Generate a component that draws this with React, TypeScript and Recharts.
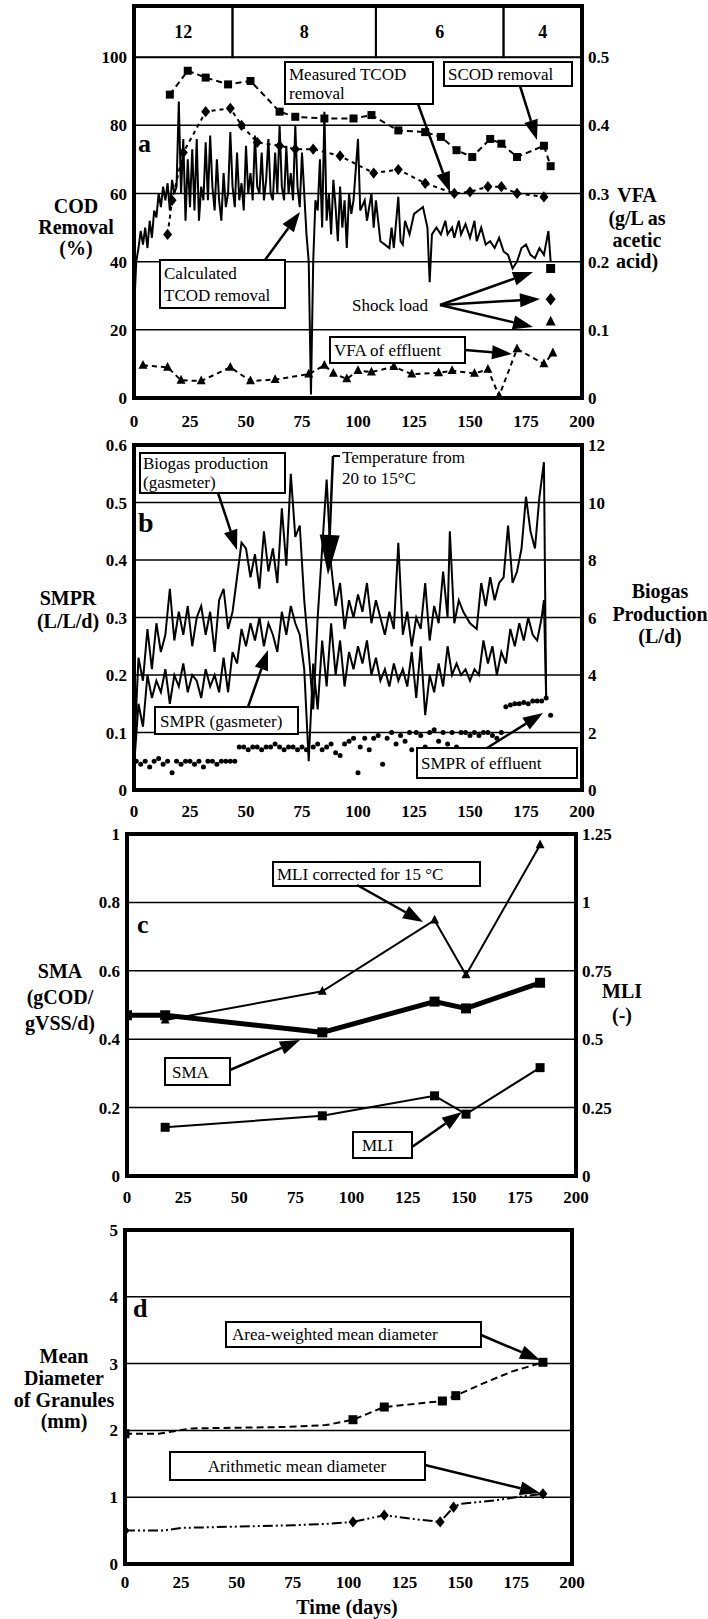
import React from "react";
import { ComposedChart, Line, XAxis, YAxis, CartesianGrid, ReferenceArea } from "recharts";

const FONT = '"Liberation Serif", "Times New Roman", serif';

// shared x axis (days)
const dayTicks = [0, 25, 50, 75, 100, 125, 150, 175, 200];

// ---- panel a : COD removal / VFA ----
const hrtBounds = [0, 44, 108, 165, 200];
const hrtLabels = ["12", "8", "6", "4"];

const calcTcod: [number, number][] = [
  [0, 25], [1, 40], [2, 44], [3, 49], [4, 45], [5, 50], [6, 44], [7, 52], [8, 47], [9, 55],
  [10, 53], [11, 60], [12, 56], [13, 62], [14, 58], [15, 63], [16, 55], [17, 64], [18, 60], [19, 62],
  [20, 87], [21, 60], [22, 76], [23, 52], [24, 70], [25, 56], [26, 73], [27, 55], [28, 76], [29, 52],
  [30, 62], [31, 58], [32, 75], [33, 58], [34, 77], [35, 62], [36, 55], [37, 70], [38, 58], [39, 52],
  [40, 66], [41, 56], [42, 60], [43, 78], [44, 62], [45, 56], [46, 72], [47, 58], [48, 63], [49, 55],
  [50, 74], [51, 60], [52, 66], [53, 58], [54, 77], [55, 62], [56, 60], [57, 72], [58, 58], [59, 64],
  [60, 76], [61, 60], [62, 58], [63, 72], [64, 60], [65, 80], [66, 62], [67, 58], [68, 74], [69, 60],
  [70, 66], [71, 58], [72, 80], [73, 62], [74, 56], [75, 72], [76, 60], [77, 48], [78, 40], [79, 1],
  [80, 40], [81, 58], [82, 55], [83, 70], [84, 50], [85, 84], [86, 52], [87, 60], [88, 48], [89, 64],
  [90, 56], [91, 46], [92, 62], [93, 50], [94, 58], [95, 44], [96, 60], [97, 54], [98, 58], [100, 76],
  [101, 55], [103, 58], [104, 52], [106, 60], [107, 50], [108, 58], [110, 46], [112, 45], [114, 44], [115, 50],
  [116, 44], [118, 59], [119, 46], [120, 45], [121, 52], [123, 48], [125, 54], [127, 55], [129, 56], [131, 50],
  [132, 34], [133, 48], [135, 50], [137, 48], [139, 52], [140, 48], [142, 50], [143, 47], [145, 52], [146, 48],
  [148, 51], [150, 47], [152, 52], [153, 46], [155, 50], [157, 45], [159, 46], [161, 44], [163, 47], [165, 43],
  [167, 42], [169, 38], [171, 40], [173, 44], [175, 45], [177, 42], [179, 41], [181, 44], [183, 42], [185, 49],
  [186, 40],
];
const measuredTcod: [number, number][] = [
  [15, 48], [17, 58], [22, 72], [32, 84], [43, 85], [48, 80], [55, 75], [65, 74], [72, 73], [80, 73],
  [92, 71], [107, 66], [118, 67], [130, 63], [143, 60], [150, 60.5], [158, 62], [164, 62], [171, 60], [183, 59],
];
const scodRemoval: [number, number][] = [
  [16, 89], [24, 96], [32, 94], [42, 92], [52, 93], [65, 84], [72, 82.5], [85, 82], [98, 82], [106, 83],
  [118, 78.5], [130, 78], [137, 76.6], [144, 72.7], [151, 70.7], [159, 76], [164, 74.6], [171, 70.7], [183, 74], [186, 68],
];
const vfaEffluent: [number, number][] = [
  [4, 0.048], [15, 0.045], [21, 0.026], [30, 0.025], [43, 0.045], [52, 0.025], [63, 0.027], [78, 0.035],
  [85, 0.048], [89, 0.036], [95, 0.028], [100, 0.04], [106, 0.038], [116, 0.046], [124, 0.035], [136, 0.037],
  [142, 0.04], [152, 0.036], [158, 0.042], [163, 0.003], [171, 0.072], [183, 0.05], [187, 0.066],
];
const shockScod: [number, number][] = [[186, 38]];
const shockTcod: [number, number][] = [[186, 29]];
const shockVfa: [number, number][] = [[186, 0.112]];

// ---- panel b : SMPR / biogas ----
const biogas: [number, number][] = [
  [0, 1.2], [2, 4.6], [4, 3.8], [6, 5.6], [8, 4.2], [10, 5.8], [12, 4.8], [14, 5.4], [16, 7.0], [18, 5.2],
  [20, 6.2], [22, 5.4], [24, 6.4], [26, 5.0], [28, 6.0], [30, 6.4], [32, 5.4], [34, 6.2], [36, 4.8], [38, 6.6],
  [40, 7.0], [42, 5.6], [44, 6.2], [46, 7.4], [48, 8.6], [50, 8.4], [52, 7.4], [54, 8.2], [56, 7.0], [58, 9.0],
  [60, 7.6], [62, 8.4], [64, 7.2], [66, 9.8], [68, 7.8], [70, 11.0], [72, 8.8], [74, 9.2], [76, 6.6], [78, 4.8],
  [80, 2.8], [82, 6.0], [84, 8.4], [86, 10.8], [88, 7.8], [90, 6.4], [92, 7.2], [94, 5.6], [96, 6.6], [98, 6.0],
  [100, 6.8], [102, 6.2], [104, 7.2], [106, 5.8], [108, 6.6], [110, 6.0], [112, 5.4], [114, 6.2], [116, 5.6], [118, 8.6],
  [120, 5.4], [122, 6.2], [124, 5.0], [126, 6.0], [128, 5.6], [130, 7.2], [132, 5.2], [134, 6.4], [136, 5.8], [138, 7.6],
  [140, 6.0], [141, 9.0], [143, 5.8], [145, 6.6], [147, 6.2], [150, 5.8], [153, 5.6], [155, 7.2], [157, 6.4], [159, 7.4],
  [161, 6.6], [163, 7.2], [165, 7.4], [167, 9.2], [169, 7.2], [171, 7.6], [173, 8.4], [175, 10.2], [177, 9.0], [179, 8.4],
  [181, 10.2], [183, 11.4], [184, 3.2],
];
const smprGas: [number, number][] = [
  [0, 0.04], [2, 0.15], [4, 0.11], [6, 0.2], [8, 0.16], [10, 0.19], [12, 0.17], [14, 0.21], [16, 0.15], [18, 0.2],
  [20, 0.18], [22, 0.22], [24, 0.17], [26, 0.2], [28, 0.19], [30, 0.16], [32, 0.21], [34, 0.18], [36, 0.2], [38, 0.17],
  [40, 0.23], [42, 0.17], [44, 0.24], [46, 0.22], [48, 0.28], [50, 0.25], [52, 0.29], [54, 0.26], [56, 0.3], [58, 0.25],
  [60, 0.29], [62, 0.27], [64, 0.24], [66, 0.31], [68, 0.27], [70, 0.32], [72, 0.29], [74, 0.27], [76, 0.21], [78, 0.05],
  [80, 0.22], [82, 0.14], [84, 0.26], [86, 0.18], [88, 0.29], [90, 0.2], [92, 0.26], [94, 0.18], [96, 0.24], [98, 0.21],
  [100, 0.25], [102, 0.22], [104, 0.26], [106, 0.2], [108, 0.23], [110, 0.19], [112, 0.21], [114, 0.18], [116, 0.22], [118, 0.19],
  [120, 0.21], [122, 0.18], [124, 0.24], [126, 0.16], [128, 0.25], [130, 0.13], [132, 0.2], [134, 0.17], [136, 0.22], [138, 0.18],
  [140, 0.25], [142, 0.2], [144, 0.22], [146, 0.2], [148, 0.21], [150, 0.19], [152, 0.21], [154, 0.2], [156, 0.26], [158, 0.22],
  [160, 0.25], [162, 0.2], [164, 0.24], [166, 0.22], [168, 0.28], [170, 0.25], [172, 0.29], [174, 0.26], [176, 0.3], [178, 0.27],
  [180, 0.26], [182, 0.3], [183, 0.33], [184, 0.16],
];
const smprEffluent: [number, number][] = [
  [1, 0.05], [3, 0.045], [5, 0.05], [7, 0.04], [9, 0.05], [11, 0.055], [13, 0.045], [15, 0.05], [17, 0.03], [19, 0.05],
  [21, 0.045], [23, 0.05], [25, 0.05], [27, 0.045], [29, 0.05], [31, 0.04], [33, 0.05], [35, 0.05], [37, 0.045], [39, 0.05],
  [41, 0.05], [43, 0.05], [45, 0.05], [47, 0.075], [49, 0.075], [51, 0.07], [53, 0.075], [55, 0.075], [57, 0.07], [59, 0.075],
  [61, 0.075], [63, 0.08], [65, 0.075], [67, 0.07], [69, 0.075], [71, 0.075], [73, 0.07], [75, 0.075], [77, 0.07], [80, 0.075],
  [82, 0.08], [84, 0.07], [86, 0.075], [88, 0.08], [90, 0.065], [92, 0.06], [94, 0.08], [96, 0.085], [98, 0.09], [100, 0.03],
  [101, 0.075], [103, 0.09], [105, 0.07], [107, 0.09], [109, 0.095], [111, 0.045], [113, 0.09], [115, 0.1], [117, 0.08], [119, 0.095],
  [121, 0.085], [123, 0.1], [124, 0.07], [126, 0.1], [128, 0.095], [130, 0.075], [132, 0.1], [134, 0.105], [136, 0.085], [138, 0.1],
  [140, 0.08], [142, 0.1], [144, 0.075], [146, 0.1], [148, 0.1], [150, 0.095], [152, 0.1], [154, 0.095], [156, 0.1], [158, 0.1],
  [160, 0.095], [162, 0.09], [164, 0.1], [166, 0.145], [168, 0.148], [170, 0.15], [172, 0.15], [174, 0.152], [176, 0.15], [178, 0.155],
  [180, 0.155], [182, 0.155], [184, 0.16], [186, 0.13],
];

// ---- panel c : SMA / MLI ----
const sma: [number, number][] = [[0, 0.47], [17, 0.47], [87, 0.42], [137, 0.51], [151, 0.49], [184, 0.565]];
const mli: [number, number][] = [[17, 0.178], [87, 0.22], [137, 0.293], [151, 0.226], [184, 0.396]];
const mliCorrected: [number, number][] = [[17, 0.57], [87, 0.675], [137, 0.935], [151, 0.735], [184, 1.21]];

// ---- panel d : granule diameter ----
const areaMean: [number, number][] = [
  [0, 1.95], [15, 1.95], [30, 2.03], [50, 2.04], [70, 2.05], [90, 2.08], [102, 2.16], [116, 2.35],
  [142, 2.44], [148, 2.52], [160, 2.7], [173, 2.88], [187, 3.02],
];
const areaMarkDays = [0, 102, 116, 142, 148, 187];
const arithMean: [number, number][] = [
  [0, 0.5], [17, 0.5], [25, 0.54], [50, 0.56], [75, 0.58], [90, 0.6], [102, 0.63], [116, 0.73],
  [130, 0.67], [141, 0.63], [147, 0.85], [150, 0.9], [165, 0.95], [175, 1.0], [187, 1.05],
];
const arithMarkDays = [0, 102, 116, 141, 147, 187];

const pts = (a: [number, number][]) => a.map(([d, v]) => ({ d, v }));
const only = (a: [number, number][], days: number[]) => pts(a.filter(([d]) => days.includes(d)));

const tickStyle = { fontSize: 17, fontWeight: 700, fill: "#000", fontFamily: FONT };

const mark = (shape: string, s: number) => (p: any) => {
  const { cx, cy, index } = p;
  const k = `${shape}-${index}`;
  if (cx == null || cy == null) return <g key={k} />;
  const h = s / 2;
  if (shape === "circle") return <circle key={k} cx={cx} cy={cy} r={h} fill="#000" />;
  let d = "";
  if (shape === "square") d = `M${cx - h},${cy - h}h${s}v${s}h${-s}Z`;
  else if (shape === "diamond") d = `M${cx},${cy - h * 1.25}L${cx + h},${cy}L${cx},${cy + h * 1.25}L${cx - h},${cy}Z`;
  else d = `M${cx},${cy - h * 1.2}L${cx + h},${cy + h * 0.75}L${cx - h},${cy + h * 0.75}Z`;
  return <path key={k} d={d} fill="#000" />;
};

type PanelProps = {
  top: number; x0: number; x1: number; h: number;
  lMax: number; lTicks: number[]; rMax?: number; rTicks?: number[];
  tickGap?: number;
  children?: React.ReactNode;
};

function Panel({ top, x0, x1, h, lMax, lTicks, rMax, rTicks, tickGap = 15, children }: PanelProps) {
  const mt = 14, axisW = 40, xH = 32, mb = 12;
  const hasR = rMax !== undefined;
  return (
    <div style={{ position: "absolute", left: 0, top: top - mt }}>
      <ComposedChart
        width={708}
        height={h + mt + xH + mb}
        margin={{ top: mt, bottom: mb, left: x0 - axisW, right: 708 - x1 - (hasR ? axisW : 0) }}
      >
        <XAxis dataKey="d" type="number" domain={[0, 200]} ticks={dayTicks} interval={0} allowDataOverflow
          axisLine={false} tickLine={false} tickSize={0} tickMargin={tickGap} height={xH} tick={tickStyle} />
        <YAxis dataKey="v" domain={[0, lMax]} ticks={lTicks} interval={0} allowDataOverflow width={axisW}
          axisLine={false} tickLine={false} tickSize={0} tickMargin={7} tick={tickStyle} />
        {hasR ? (
          <YAxis yAxisId="r" orientation="right" dataKey="v" domain={[0, rMax as number]} ticks={rTicks} interval={0}
            allowDataOverflow width={axisW} axisLine={false} tickLine={false} tickSize={0} tickMargin={6} tick={tickStyle} />
        ) : null}
        <CartesianGrid vertical={false} stroke="#000" strokeWidth={1.5} />
        {children}
        <ReferenceArea x1={0} x2={200} y1={0} y2={lMax} fill="none" stroke="#000" strokeWidth={4} ifOverflow="visible" />
      </ComposedChart>
    </div>
  );
}

const Box = ({ x, y, w, h }: { x: number; y: number; w: number; h: number }) => (
  <rect x={x} y={y} width={w} height={h} fill="#fff" stroke="#000" strokeWidth={2} />
);

const Arrow = ({ x1, y1, x2, y2, head = 20, hw = 7 }: { x1: number; y1: number; x2: number; y2: number; head?: number; hw?: number }) => {
  const dx = x2 - x1, dy = y2 - y1, L = Math.hypot(dx, dy);
  const ux = dx / L, uy = dy / L;
  const bx = x2 - ux * head, by = y2 - uy * head;
  const px = -uy * hw, py = ux * hw;
  return (
    <g>
      <line x1={x1} y1={y1} x2={bx} y2={by} stroke="#000" strokeWidth={2.5} />
      <path d={`M${x2},${y2}L${bx + px},${by + py}L${bx - px},${by - py}Z`} fill="#000" />
    </g>
  );
};

const T = ({ x, y, s, anchor = "start", bold = false, children }: any) => (
  <text x={x} y={y} fontSize={s} fontWeight={bold ? 700 : 400} textAnchor={anchor} fill="#000" fontFamily={FONT}>
    {children}
  </text>
);

function Overlay() {
  return (
    <svg width={708} height={1619} style={{ position: "absolute", left: 0, top: 0, pointerEvents: "none" }}>
      {/* panel a */}
      <T x={138} y={152} s={26} bold>a</T>
      <T x={76} y={213} s={20} anchor="middle" bold>COD</T>
      <T x={76} y={234} s={20} anchor="middle" bold>Removal</T>
      <T x={76} y={255} s={20} anchor="middle" bold>(%)</T>
      <T x={637} y={202} s={20} anchor="middle" bold>VFA</T>
      <T x={637} y={225} s={20} anchor="middle" bold>(g/L as</T>
      <T x={637} y={247} s={20} anchor="middle" bold>acetic</T>
      <T x={637} y={268} s={20} anchor="middle" bold>acid)</T>
      <Box x={285} y={62} w={148} h={42} />
      <T x={289} y={80} s={17}>Measured TCOD</T>
      <T x={289} y={99} s={17}>removal</T>
      <Arrow x1={418} y1={104} x2={450} y2={192} />
      <Box x={444} y={62} w={128} h={24} />
      <T x={448} y={80} s={17}>SCOD removal</T>
      <Arrow x1={520} y1={86} x2={537} y2={140} />
      <Box x={160} y={260} w={125} h={48} />
      <T x={164} y={279} s={17}>Calculated</T>
      <T x={164} y={301} s={17}>TCOD removal</T>
      <Arrow x1={265} y1={260} x2={300} y2={212} />
      <T x={352} y={311} s={17}>Shock load</T>
      <Arrow x1={440} y1={305} x2={533} y2={272} />
      <Arrow x1={440} y1={305} x2={540} y2={299} />
      <Arrow x1={440} y1={305} x2={533} y2={327} />
      <Box x={330} y={337} w={135} h={26} />
      <T x={334} y={356} s={17}>VFA of effluent</T>
      <Arrow x1={465} y1={350} x2={512} y2={354} />

      {/* panel b */}
      <T x={138} y={532} s={28} bold>b</T>
      <T x={68} y={605} s={20} anchor="middle" bold>SMPR</T>
      <T x={68} y={628} s={20} anchor="middle" bold>(L/L/d)</T>
      <T x={660} y={598} s={20} anchor="middle" bold>Biogas</T>
      <T x={660} y={621} s={20} anchor="middle" bold>Production</T>
      <T x={660} y={643} s={20} anchor="middle" bold>(L/d)</T>
      <Box x={140} y={453} w={145} h={40} />
      <T x={143} y={469} s={17}>Biogas production</T>
      <T x={143} y={488} s={17}>(gasmeter)</T>
      <Arrow x1={218} y1={493} x2={237} y2={550} />
      <line x1={333} y1={456} x2={340} y2={456} stroke="#000" strokeWidth={2} />
      <Arrow x1={333} y1={456} x2={328} y2={575} head={40} hw={10} />
      <T x={342} y={463} s={17}>Temperature from</T>
      <T x={342} y={484} s={17}>20 to 15°C</T>
      <Box x={155} y={707} w={143} h={27} />
      <T x={160} y={727} s={17}>SMPR (gasmeter)</T>
      <Arrow x1={248} y1={707} x2={268} y2={650} />
      <Box x={417} y={748} w={160} h={30} />
      <T x={421} y={769} s={17}>SMPR of effluent</T>
      <Arrow x1={487} y1={748} x2={543} y2={713} />

      {/* panel c */}
      <T x={137} y={933} s={26} bold>c</T>
      <T x={60} y={978} s={20} anchor="middle" bold>SMA</T>
      <T x={60} y={1004} s={20} anchor="middle" bold>(gCOD/</T>
      <T x={60} y={1030} s={20} anchor="middle" bold>gVSS/d)</T>
      <T x={622} y={998} s={20} anchor="middle" bold>MLI</T>
      <T x={622} y={1022} s={20} anchor="middle" bold>(-)</T>
      <Box x={273} y={862} w={207} h={24} />
      <T x={277} y={880} s={17}>MLI corrected for 15 °C</T>
      <Arrow x1={357} y1={885} x2={423} y2={922} />
      <Box x={165} y={1058} w={65} h={27} />
      <T x={172} y={1078} s={17}>SMA</T>
      <Arrow x1={230} y1={1070} x2={300} y2={1040} />
      <Box x={353} y={1132} w={59} h={26} />
      <T x={362} y={1151} s={17}>MLI</T>
      <Arrow x1={412} y1={1147} x2={462} y2={1112} />

      {/* panel d */}
      <T x={133} y={1317} s={26} bold>d</T>
      <T x={64} y={1363} s={20} anchor="middle" bold>Mean</T>
      <T x={64} y={1385} s={20} anchor="middle" bold>Diameter</T>
      <T x={64} y={1407} s={20} anchor="middle" bold>of Granules</T>
      <T x={64} y={1428} s={20} anchor="middle" bold>(mm)</T>
      <Box x={226} y={1322} w={255} h={25} />
      <T x={232} y={1340} s={17}>Area-weighted mean diameter</T>
      <Arrow x1={481} y1={1335} x2={540} y2={1360} />
      <Box x={170} y={1452} w={255} h={28} />
      <T x={297} y={1472} s={17} anchor="middle">Arithmetic mean diameter</T>
      <Arrow x1={425} y1={1465} x2={540} y2={1493} />
      <T x={347} y={1614} s={20} anchor="middle" bold>Time (days)</T>
    </svg>
  );
}

export default function App() {
  return (
    <div style={{ position: "absolute", left: 0, top: 0, width: 708, height: 1619, background: "#fff", fontFamily: FONT }}>
      {/* a */}
      <Panel top={6} x0={134} x1={582} h={392} lMax={115} lTicks={[0, 20, 40, 60, 80, 100]}
        rMax={0.575} rTicks={[0, 0.1, 0.2, 0.3, 0.4, 0.5]} tickGap={17}>
        {hrtLabels.map((lab, i) => (
          <ReferenceArea key={lab} x1={hrtBounds[i]} x2={hrtBounds[i + 1]} y1={100} y2={115} fill="#fff"
            stroke="#000" strokeWidth={2} ifOverflow="visible"
            label={{ value: lab, position: "center", fill: "#000", fontSize: 18, fontWeight: 700, fontFamily: FONT }} />
        ))}
        <Line data={pts(scodRemoval)} dataKey="v" stroke="#000" strokeWidth={2} strokeDasharray="6 4"
          dot={mark("square", 8)} activeDot={false} isAnimationActive={false} />
        <Line data={pts(measuredTcod)} dataKey="v" stroke="#000" strokeWidth={2} strokeDasharray="4 4"
          dot={mark("diamond", 9)} activeDot={false} isAnimationActive={false} />
        <Line data={pts(calcTcod)} dataKey="v" stroke="#000" strokeWidth={2} dot={false} activeDot={false}
          isAnimationActive={false} />
        <Line data={pts(vfaEffluent)} yAxisId="r" dataKey="v" stroke="#000" strokeWidth={2} strokeDasharray="5 4"
          dot={mark("triangle", 9)} activeDot={false} isAnimationActive={false} />
        <Line data={pts(shockScod)} dataKey="v" stroke="none" dot={mark("square", 9)} activeDot={false} isAnimationActive={false} />
        <Line data={pts(shockTcod)} dataKey="v" stroke="none" dot={mark("diamond", 10)} activeDot={false} isAnimationActive={false} />
        <Line data={pts(shockVfa)} yAxisId="r" dataKey="v" stroke="none" dot={mark("triangle", 10)} activeDot={false} isAnimationActive={false} />
      </Panel>

      {/* b */}
      <Panel top={445} x0={134} x1={582} h={345} lMax={0.6} lTicks={[0, 0.1, 0.2, 0.3, 0.4, 0.5, 0.6]}
        rMax={12} rTicks={[0, 2, 4, 6, 8, 10, 12]}>
        <Line data={pts(biogas)} yAxisId="r" dataKey="v" stroke="#000" strokeWidth={2} dot={false} activeDot={false}
          isAnimationActive={false} />
        <Line data={pts(smprGas)} dataKey="v" stroke="#000" strokeWidth={2} dot={false} activeDot={false}
          isAnimationActive={false} />
        <Line data={pts(smprEffluent)} dataKey="v" stroke="none" dot={mark("circle", 5)} activeDot={false}
          isAnimationActive={false} />
      </Panel>

      {/* c */}
      <Panel top={834} x0={127} x1={576} h={342} lMax={1} lTicks={[0, 0.2, 0.4, 0.6, 0.8, 1]}
        rMax={1.25} rTicks={[0, 0.25, 0.5, 0.75, 1, 1.25]}>
        <Line data={pts(sma)} dataKey="v" stroke="#000" strokeWidth={5} dot={mark("square", 10)} activeDot={false}
          isAnimationActive={false} />
        <Line data={pts(mli)} yAxisId="r" dataKey="v" stroke="#000" strokeWidth={2} dot={mark("square", 9)}
          activeDot={false} isAnimationActive={false} />
        <Line data={pts(mliCorrected)} yAxisId="r" dataKey="v" stroke="#000" strokeWidth={2}
          dot={mark("triangle", 9)} activeDot={false} isAnimationActive={false} />
      </Panel>

      {/* d */}
      <Panel top={1230} x0={125} x1={572} h={334} lMax={5} lTicks={[0, 1, 2, 3, 4, 5]} tickGap={12}>
        <Line data={pts(areaMean)} dataKey="v" stroke="#000" strokeWidth={2} strokeDasharray="7 4" dot={false}
          activeDot={false} isAnimationActive={false} />
        <Line data={only(areaMean, areaMarkDays)} dataKey="v" stroke="none" dot={mark("square", 9)}
          activeDot={false} isAnimationActive={false} />
        <Line data={pts(arithMean)} dataKey="v" stroke="#000" strokeWidth={2} strokeDasharray="10 3 2 3 2 3"
          dot={false} activeDot={false} isAnimationActive={false} />
        <Line data={only(arithMean, arithMarkDays)} dataKey="v" stroke="none" dot={mark("diamond", 9)}
          activeDot={false} isAnimationActive={false} />
      </Panel>

      <Overlay />
    </div>
  );
}
